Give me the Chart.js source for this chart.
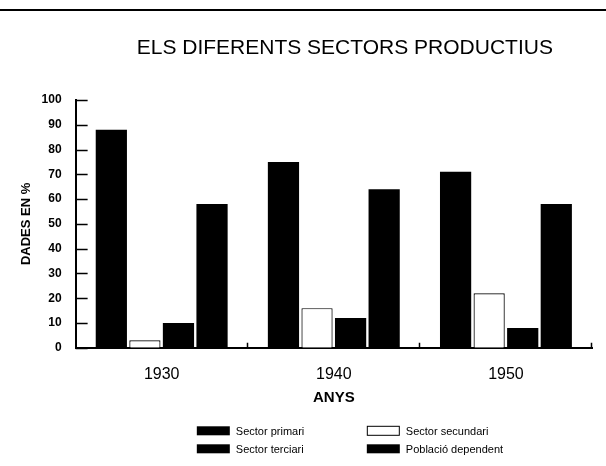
<!DOCTYPE html>
<html>
<head>
<meta charset="utf-8">
<script src="https://cdn.jsdelivr.net/npm/chart.js@4.4.0/dist/chart.umd.min.js"></script>
<style>
  html, body { margin: 0; padding: 0; background: #fff; }
  #grafic { display: block; }
</style>
</head>
<body>
<canvas id="grafic" width="606" height="466"></canvas>
<script>
const TITOL = 'ELS DIFERENTS SECTORS PRODUCTIUS';
const ANYS = ['1930', '1940', '1950'];
const SECTOR_PRIMARI = [88, 75, 71];
const SECTOR_SECUNDARI = [3, 16, 22];
const SECTOR_TERCIARI = [10, 12, 8];
const POBLACIO_DEPENDENT = [58, 64, 58];
const NOMS_SERIES = ['Sector primari', 'Sector secundari', 'Sector terciari', 'Població dependent'];

const FONT = 'Liberation Sans, Arial, sans-serif';

// titol, linia de dalt, marques cap a dins dels eixos i llegenda en dues columnes
const decoracio = {
    id: 'decoracio',
    afterDraw(chart) {
        const ctx = chart.ctx;
        const area = chart.chartArea;
        const x = chart.scales.x;
        const y = chart.scales.y;
        const centre = (area.left + area.right) / 2;
        ctx.save();
        ctx.strokeStyle = '#000';
        ctx.fillStyle = '#000';

        ctx.lineWidth = 2;
        ctx.beginPath();
        ctx.moveTo(0, 10);
        ctx.lineTo(chart.width, 10);
        ctx.stroke();

        ctx.font = '21px ' + FONT;
        ctx.textAlign = 'center';
        ctx.textBaseline = 'middle';
        ctx.fillText(TITOL, centre + 11, area.top - 52);

        ctx.lineWidth = 1.5;
        ctx.beginPath();
        y.ticks.forEach((t, i) => {
            const py = Math.round(y.getPixelForTick(i)) + 0.5;
            ctx.moveTo(area.left, py);
            ctx.lineTo(area.left + 12, py);
        });
        const n = x.ticks.length;
        for (let i = 1; i <= n; i++) {
            const px = Math.round(area.left + i * (area.right - area.left) / n) - 0.5;
            ctx.moveTo(px, area.bottom);
            ctx.lineTo(px, area.bottom - 5);
        }
        ctx.stroke();

        // llegenda
        const columnes = [centre - 137, centre + 33];
        const files = [area.bottom + 83, area.bottom + 101];
        ctx.font = '11px ' + FONT;
        ctx.textAlign = 'left';
        chart.data.datasets.forEach((ds, i) => {
            const bx = columnes[i % 2];
            const by = files[Math.floor(i / 2)];
            ctx.fillStyle = ds.backgroundColor;
            ctx.fillRect(bx, by - 4.5, 33, 9);
            if (ds.backgroundColor === '#ffffff') {
                ctx.lineWidth = 1;
                ctx.strokeRect(bx + 0.5, by - 4.5, 32, 9);
            }
            ctx.fillStyle = '#000';
            ctx.fillText(ds.label, bx + 39, by + 1);
        });
        ctx.restore();
    }
};

function serie(nom, valors, color) {
    return {
        label: nom,
        data: valors,
        backgroundColor: color,
        borderColor: '#000',
        borderWidth: color === '#ffffff' ? 1.2 : 0,
        categoryPercentage: 0.78,
        barPercentage: 0.93
    };
}

new Chart(document.getElementById('grafic'), {
    type: 'bar',
    data: {
        labels: ANYS,
        datasets: [
            serie(NOMS_SERIES[0], SECTOR_PRIMARI, '#000000'),
            serie(NOMS_SERIES[1], SECTOR_SECUNDARI, '#ffffff'),
            serie(NOMS_SERIES[2], SECTOR_TERCIARI, '#000000'),
            serie(NOMS_SERIES[3], POBLACIO_DEPENDENT, '#000000')
        ]
    },
    options: {
        responsive: false,
        animation: false,
        layout: { padding: { left: 4, right: 14, top: 100, bottom: 55 } },
        plugins: {
            legend: { display: false },
            tooltip: { enabled: false },
            title: { display: false }
        },
        scales: {
            x: {
                grid: { display: false, tickLength: 17 },
                border: { display: true, color: '#000', width: 2 },
                ticks: { color: '#000', padding: 0, font: { family: FONT, size: 16 } },
                title: {
                    display: true,
                    text: 'ANYS',
                    color: '#000',
                    font: { family: FONT, size: 15, weight: 'bold' },
                    padding: { top: 5, bottom: 4 }
                }
            },
            y: {
                min: 0,
                max: 100,
                grid: { display: false, tickLength: 14 },
                border: { display: true, color: '#000', width: 2 },
                ticks: { stepSize: 10, color: '#000', padding: 0, font: { family: FONT, size: 12, weight: 'bold' } },
                title: {
                    display: true,
                    text: 'DADES EN %',
                    color: '#000',
                    font: { family: FONT, size: 13, weight: 'bold' },
                    padding: { top: 15, bottom: 7 }
                }
            }
        }
    },
    plugins: [decoracio]
});
</script>
</body>
</html>
